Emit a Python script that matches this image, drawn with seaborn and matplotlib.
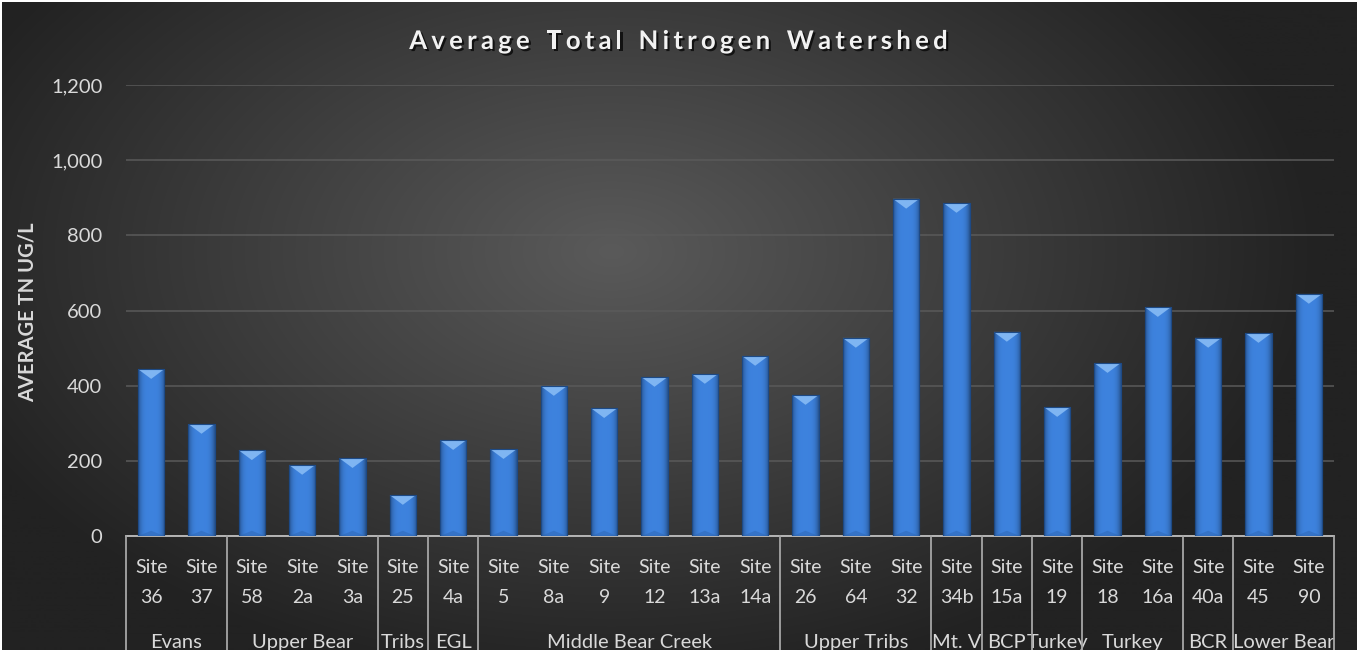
import numpy as np
import pandas as pd
import matplotlib
matplotlib.use("Agg")
import matplotlib.pyplot as plt
import matplotlib.patheffects as pe
from matplotlib.patches import Polygon, Rectangle
from matplotlib.transforms import Bbox, TransformedBbox, blended_transform_factory
import seaborn as sns

# chart data
sites = ["36", "37", "58", "2a", "3a", "25", "4a", "5", "8a", "9", "12", "13a",
         "14a", "26", "64", "32", "34b", "15a", "19", "18", "16a", "40a", "45", "90"]
avg_tn = [444, 298, 228, 189, 207, 109, 255, 231, 399, 340, 423, 431,
          479, 375, 527, 897, 886, 543, 343, 460, 609, 527, 540, 644]
groups = ["Evans", "Upper Bear", "Tribs", "EGL", "Middle Bear Creek", "Upper Tribs",
          "Mt. V", "BCP", "Turkey", "Turkey", "BCR", "Lower Bear"]
group_sizes = [2, 3, 1, 1, 6, 3, 1, 1, 1, 2, 1, 2]
y_ticks = [0, 200, 400, 600, 800, 1000, 1200]
title = "Average Total Nitrogen Watershed"
y_label = "AVERAGE TN UG/L"

W, H = 1357, 650
FONT = "Lato"
LABEL_COLOR = "#d9d9d9"

sns.set_style("white")
plt.rcParams["font.family"] = [FONT, "DejaVu Sans"]

df = pd.DataFrame({"Site": ["Site\n" + s for s in sites], "TN": avg_tn})

fig = plt.figure(figsize=(W / 100, H / 100), dpi=100)
fig.patch.set_facecolor("white")

# background with a soft radial light in the middle
bg = fig.add_axes([0, 0, 1, 1], zorder=0)
yy, xx = np.mgrid[0:H, 0:W]
r = np.sqrt(((xx - 610) / 760.0) ** 2 + ((yy - 250) / 470.0) ** 2)
shade = np.clip(90 - 60 * r, 34, 90) / 255.0
bg.imshow(np.dstack([shade, shade, shade]), extent=[2, W, H, 2], aspect="auto")
bg.set_xlim(0, W)
bg.set_ylim(H, 0)
bg.axis("off")

# plot area
left, right, top, bottom = 126, 1334, 85, 536
ax = fig.add_axes([left / W, 1 - bottom / H, (right - left) / W, (bottom - top) / H], zorder=2)
ax.patch.set_alpha(0)

sns.barplot(data=df, x="Site", y="TN", color="#3a7bd5", width=0.52,
            saturation=1, edgecolor="#1d4a86", linewidth=0.8, ax=ax, zorder=3)

ax.set_ylim(0, 1200)
ax.set_xlim(-0.5, len(sites) - 0.5)
ax.set_yticks(y_ticks)
ax.set_yticklabels([f"{v:,}" for v in y_ticks])
ax.yaxis.grid(True, color="#5a5a5a", linewidth=1.1, zorder=0)
ax.set_axisbelow(True)
for side in ["top", "right", "left"]:
    ax.spines[side].set_visible(False)
ax.spines["bottom"].set_color("#bfbfbf")
ax.spines["bottom"].set_linewidth(1.3)
ax.tick_params(axis="y", length=0, pad=17, labelsize=14.5, labelcolor=LABEL_COLOR)
ax.tick_params(axis="x", length=0, pad=16.5, labelsize=14, labelcolor=LABEL_COLOR)
for t in ax.get_xticklabels():
    t.set_linespacing(1.95)
ax.set_xlabel("")
ax.set_ylabel("")

# bevel look on each bar
for bar in ax.patches:
    x0, y0 = bar.get_x(), bar.get_y()
    w, h = bar.get_width(), bar.get_height()
    grad = np.linspace(-1, 1, 40)
    g = 1 - 0.35 * grad ** 4
    img = np.zeros((2, 40, 3))
    img[..., 0] = 0.24 * g
    img[..., 1] = 0.51 * g
    img[..., 2] = 0.87 * g
    im = ax.imshow(img, extent=[x0, x0 + w, y0, y0 + h], aspect="auto", zorder=3.5)
    im.set_clip_path(bar)
    tip = 26
    ax.add_patch(Polygon([[x0, y0 + h], [x0 + w, y0 + h], [x0 + w / 2, y0 + h - tip]],
                         closed=True, facecolor="#7fb5f2", edgecolor="none", zorder=4))
    ax.add_patch(Polygon([[x0, y0], [x0 + w, y0], [x0 + w / 2, y0 + 14]],
                         closed=True, facecolor="#2e66b3", edgecolor="none", alpha=0.5, zorder=4))
    ax.add_patch(Rectangle((x0, y0), w, h, facecolor="none", edgecolor="#1d4a86",
                           linewidth=0.8, zorder=4.5))

# group separators and group labels below the site labels
trans = blended_transform_factory(ax.transData, ax.transAxes)
edges = np.concatenate([[0], np.cumsum(group_sizes)]) - 0.5
for e in edges:
    ax.plot([e, e], [0, -0.3], transform=trans, color="#a6a6a6", linewidth=1.3,
            clip_on=False, zorder=5)
label_y = -(634 - bottom) / (bottom - top)
for name, a, b in zip(groups, edges[:-1], edges[1:]):
    txt = ax.text((a + b) / 2, label_y, name, transform=trans, ha="center", va="top",
                  fontsize=14.5, color=LABEL_COLOR, clip_on=False)
    txt.set_clip_box(TransformedBbox(Bbox([[a, -0.5], [b, 0]]), trans))

# y-axis title
fig.text(28 / W, 1 - 312 / H, y_label, rotation=90, ha="center", va="center",
         fontsize=14.5, fontweight="bold", color=LABEL_COLOR)

# letter-spaced chart title
renderer = fig.canvas.get_renderer()
spacing = 4.2
widths = []
for ch in title:
    t = fig.text(0, 0, ch if ch != " " else "n", fontsize=18.5, fontweight="bold")
    wpx = t.get_window_extent(renderer).width
    if ch == " ":
        wpx *= 0.55
    widths.append(wpx)
    t.remove()
total = sum(widths) + spacing * (len(title) - 1)
xpos = W / 2 - total / 2
for ch, wpx in zip(title, widths):
    if ch != " ":
        fig.text(xpos / W, 1 - 41 / H, ch, fontsize=18.5, fontweight="bold", color="#f2f2f2",
                 ha="left", va="center",
                 path_effects=[pe.withSimplePatchShadow(offset=(1.5, -1.5),
                                                        shadow_rgbFace="black", alpha=0.7)])
    xpos += wpx + spacing

fig.savefig("out.png", dpi=100, facecolor=fig.get_facecolor())
